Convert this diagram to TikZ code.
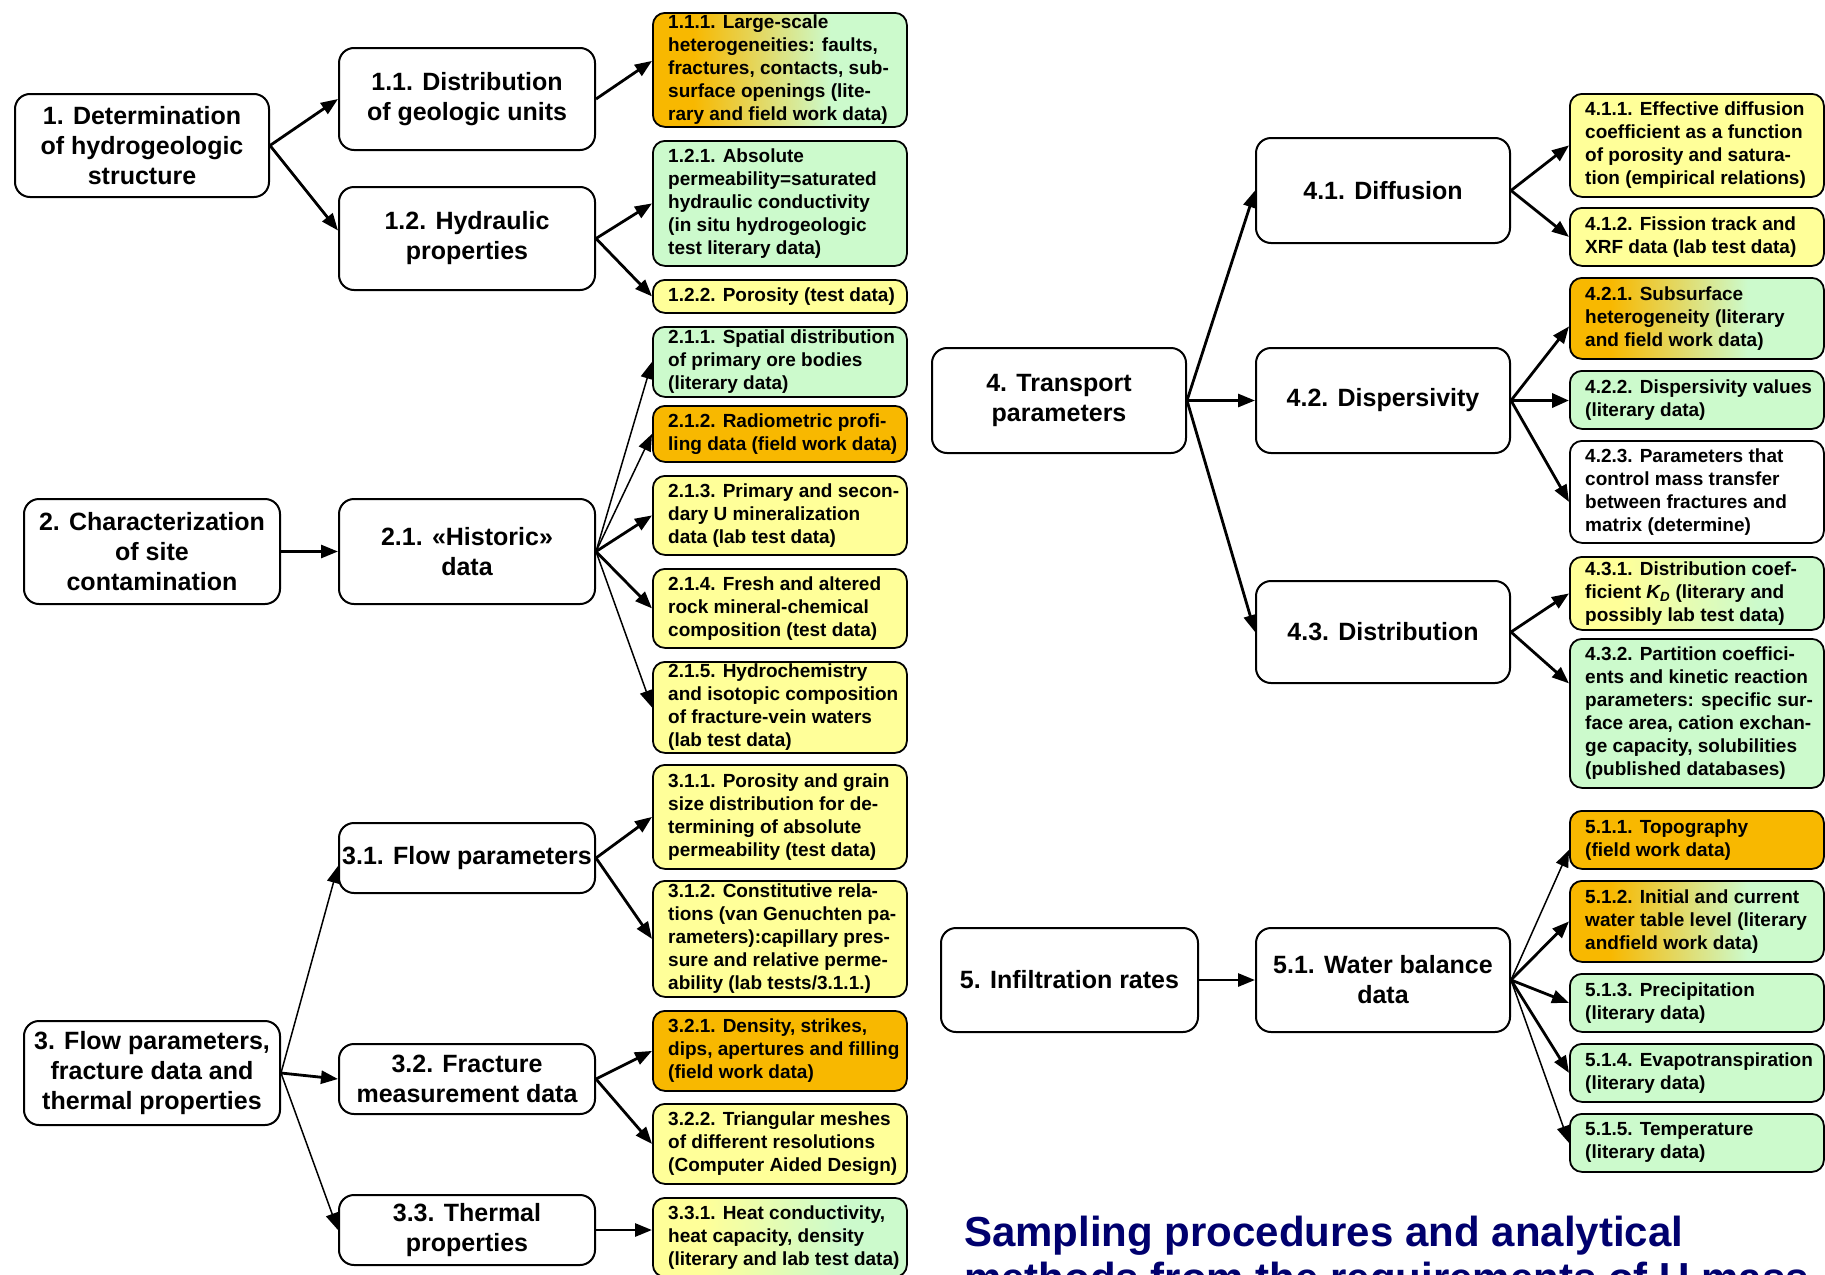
\documentclass[tikz,border=0pt]{standalone}
\usepackage{fontspec}
\setmainfont{Liberation Sans}
\usetikzlibrary{arrows.meta}
\definecolor{orng}{RGB}{248,184,0}
\definecolor{yel}{RGB}{255,255,153}
\definecolor{grn}{RGB}{204,250,204}
\definecolor{navy}{RGB}{0,0,110}
\pgfdeclarehorizontalshading{orgr}{100bp}{color(0bp)=(orng); color(33bp)=(orng); color(60bp)=(grn); color(100bp)=(grn)}
\pgfdeclarehorizontalshading{yegr}{100bp}{color(0bp)=(yel); color(35bp)=(yel); color(62bp)=(grn); color(100bp)=(grn)}
\tikzset{
  mbox/.style={draw, line width=2pt, rounded corners=15pt, fill=white, align=center,
    font=\fontsize{25}{30}\bfseries\selectfont, inner sep=1pt},
  lbox/.style={draw, line width=1.8pt, rounded corners=12pt, minimum width=254pt, inner sep=0pt},
  ltext/.style={font=\fontsize{19}{23}\bfseries\selectfont, align=left, inner sep=0pt},
  thk/.style={line width=2.8pt, -{Triangle[length=17pt,width=13pt]}},
  thn/.style={line width=1.5pt, -{Triangle[length=17pt,width=13pt]}},
  vthk/.style={line width=3.6pt, -{Triangle[length=17pt,width=14pt]}},
  fo/.style={fill=orng}, fy/.style={fill=yel}, fg/.style={fill=grn}, fw/.style={fill=white},
  fog/.style={shading=orgr}, fyg/.style={shading=yegr},
  ttl/.style={font=\fontsize{42}{46}\bfseries\selectfont, text=navy, inner sep=0pt, anchor=base west}
}
% name, left, top, right, bottom, text
\newcommand{\mnode}[6]{\node[mbox, minimum width={#4-#2}, minimum height={#5-#3}, anchor=north west] (#1) at (#2,-#3) {#6};}
% name, left, top, bottom, fill style, text
\newcommand{\lnode}[6]{\node[lbox, #5, minimum height={#4-#3}, anchor=north west] (#1) at (#2,-#3) {};
  \node[ltext, anchor=west] (#1t) at ([xshift=16pt]#1.west) {#6};}
\begin{document}
\begin{tikzpicture}[x=1pt,y=1pt]
\useasboundingbox (0,0) rectangle (1825,-1274);
\clip (0,0) rectangle (1825,-1274);
\fill[white] (0,0) rectangle (1825,-1274);

% main boxes, left half
\mnode{n1}{14}{93}{268}{196}{1. Determination\\of hydrogeologic\\structure}
\mnode{n11}{338}{47}{594}{149}{1.1. Distribution\\of geologic units}
\mnode{n12}{338}{186}{594}{289}{1.2. Hydraulic\\properties}
\mnode{n2}{23}{498}{279}{603}{2. Characterization\\of site\\contamination}
\mnode{n21}{338}{498}{594}{603}{2.1. «Historic»\\data}
\mnode{n3}{23}{1020}{279}{1124}{3. Flow parameters,\\fracture data and\\thermal properties}
\mnode{n31}{338}{822}{594}{892}{3.1. Flow parameters}
\mnode{n32}{338}{1043}{594}{1113}{3.2. Fracture\\measurement data}
\mnode{n33}{338}{1194}{594}{1264}{3.3. Thermal\\properties}

% main boxes, right half
\mnode{n4}{931}{347}{1185}{452}{4. Transport\\parameters}
\mnode{n41}{1255}{137}{1509}{242}{4.1. Diffusion}
\mnode{n42}{1255}{347}{1509}{452}{4.2. Dispersivity}
\mnode{n43}{1255}{580}{1509}{682}{4.3. Distribution}
\mnode{n5}{940}{927}{1197}{1031}{5. Infiltration rates}
\mnode{n51}{1255}{927}{1509}{1031}{5.1. Water balance\\data}

% leaves, left column
\lnode{n111}{652}{12}{126}{fog}{1.1.1. Large-scale\\heterogeneities: faults,\\fractures, contacts, sub-\\surface openings (lite-\\rary and field work data)}
\lnode{n121}{652}{140}{265}{fg}{1.2.1. Absolute\\permeability=saturated\\hydraulic conductivity\\(in situ hydrogeologic\\test literary data)}
\lnode{n122}{652}{279}{312}{fy}{1.2.2. Porosity (test data)}
\lnode{n211}{652}{326}{396}{fg}{2.1.1. Spatial distribution\\of primary ore bodies\\(literary data)}
\lnode{n212}{652}{405}{461}{fo}{2.1.2. Radiometric profi-\\ling data (field work data)}
\lnode{n213}{652}{475}{554}{fy}{2.1.3. Primary and secon-\\dary U mineralization\\data (lab test data)}
\lnode{n214}{652}{568}{647}{fy}{2.1.4. Fresh and altered\\rock mineral-chemical\\composition (test data)}
\lnode{n215}{652}{661}{752}{fy}{2.1.5. Hydrochemistry\\and isotopic composition\\of fracture-vein waters\\(lab test data)}
\lnode{n311}{652}{764}{868}{fy}{3.1.1. Porosity and grain\\size distribution for de-\\termining of absolute\\permeability (test data)}
\lnode{n312}{652}{880}{996}{fy}{3.1.2. Constitutive rela-\\tions (van Genuchten pa-\\rameters):capillary pres-\\sure and relative perme-\\ability (lab tests/3.1.1.)}
\lnode{n321}{652}{1010}{1090}{fo}{3.2.1. Density, strikes,\\dips, apertures and filling\\(field work data)}
\lnode{n322}{652}{1103}{1183}{fy}{3.2.2. Triangular meshes\\of different resolutions\\(Computer Aided Design)}
\lnode{n331}{652}{1197}{1276}{fyg}{3.3.1. Heat conductivity,\\heat capacity, density\\(literary and lab test data)}

% leaves, right column
\lnode{n411}{1569}{93}{196}{fy}{4.1.1. Effective diffusion\\coefficient as a function\\of porosity and satura-\\tion (empirical relations)}
\lnode{n412}{1569}{207}{265}{fy}{4.1.2. Fission track and\\XRF data (lab test data)}
\lnode{n421}{1569}{277}{358}{fog}{4.2.1. Subsurface\\heterogeneity (literary\\and field work data)}
\lnode{n422}{1569}{370}{428}{fg}{4.2.2. Dispersivity values\\(literary data)}
\lnode{n423}{1569}{440}{542}{fw}{4.2.3. Parameters that\\control mass transfer\\between fractures and\\matrix (determine)}
\lnode{n431}{1569}{556}{629}{fyg}{4.3.1. Distribution coef-\\ficient {\itshape K\textsubscript{D}} (literary and\\possibly lab test data)}
\lnode{n432}{1569}{638}{787}{fg}{4.3.2. Partition coeffici-\\ents and kinetic reaction\\parameters: specific sur-\\face area, cation exchan-\\ge capacity, solubilities\\(published databases)}
\lnode{n511}{1569}{810}{868}{fo}{5.1.1. Topography\\(field work data)}
\lnode{n512}{1569}{880}{961}{fog}{5.1.2. Initial and current\\water table level (literary\\andfield work data)}
\lnode{n513}{1569}{973}{1031}{fg}{5.1.3. Precipitation\\(literary data)}
\lnode{n514}{1569}{1043}{1101}{fg}{5.1.4. Evapotranspiration\\(literary data)}
\lnode{n515}{1569}{1113}{1171}{fg}{5.1.5. Temperature\\(literary data)}

% connectors
\draw[thk] (n1.east) -- (n11.west);
\draw[thk] (n1.east) -- ([yshift=8pt]n12.west);
\draw[thk] (n11.east) -- ([yshift=9pt]n111.west);
\draw[thk] (n12.east) -- (n121.west);
\draw[thk] (n12.east) -- (n122.west);
\draw[thk] (n2.east) -- (n21.west);
\draw[thn] (n21.east) -- (n211.west);
\draw[thn] (n21.east) -- (n212.west);
\draw[thk] (n21.east) -- (n213.west);
\draw[thk] (n21.east) -- (n214.west);
\draw[thn] (n21.east) -- (n215.west);
\draw[thn] (n3.east) -- ([yshift=-8pt]n31.west);
\draw[thk] (n3.east) -- (n32.west);
\draw[thn] (n3.east) -- (n33.west);
\draw[thk] (n31.east) -- (n311.west);
\draw[thk] (n31.east) -- (n312.west);
\draw[thk] (n32.east) -- (n321.west);
\draw[thk] (n32.east) -- (n322.west);
\draw[thk] (n33.east) -- (n33.east -| n331.west);
\draw[thk] (n4.east) -- (n41.west);
\draw[thk] (n4.east) -- (n42.west);
\draw[thk] (n4.east) -- (n43.west);
\draw[thk] (n41.east) -- (n411.west);
\draw[thk] (n41.east) -- (n412.west);
\draw[thk] (n42.east) -- ([yshift=-8pt]n421.west);
\draw[vthk] (n42.east) -- (n42.east -| n422.west);
\draw[thk] (n42.east) -- ([yshift=-10pt]n423.west);
\draw[thk] (n43.east) -- (n431.west);
\draw[thk] (n43.east) -- ([yshift=30pt]n432.west);
\draw[thk] (n5.east) -- (n51.west);
\draw[thn] (n51.east) -- ([yshift=-10pt]n511.west);
\draw[thk] (n51.east) -- (n512.west);
\draw[thk] (n51.east) -- (n513.west);
\draw[thk] (n51.east) -- (n514.west);
\draw[thn] (n51.east) -- (n515.west);

% title
\node[ttl] (title1) at (964,-1246) {Sampling procedures and analytical};
\node[ttl] (title2) at (964,-1292) {methods from the requirements of U mass};
\end{tikzpicture}
\end{document}
